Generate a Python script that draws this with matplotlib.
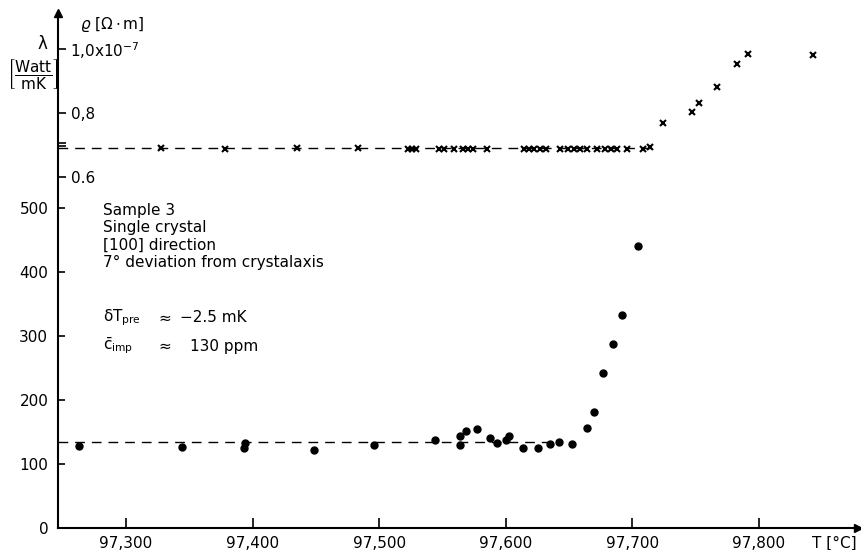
import matplotlib.pyplot as plt
import numpy as np

# lower curve: lambda (Watt/mK) vs T
t_lam = [97.263, 97.344, 97.3934, 97.394, 97.4485, 97.4956, 97.5438,
         97.564, 97.564, 97.5686, 97.577, 97.5875, 97.5933, 97.5999, 97.6028,
         97.6138, 97.6257, 97.6347, 97.6418, 97.6523, 97.6644, 97.670,
         97.677, 97.685, 97.6918, 97.7047]
lam = [128.6, 126.5, 125.5, 132.3, 121.4, 129.2, 137.5,
       144.3, 129.7, 151.0, 154.2, 140.6, 132.8, 138.0, 144.3,
       124.5, 125.5, 131.8, 134.9, 130.8, 155.7, 181.8,
       241.7, 287.5, 332.3, 440.6]

# upper curve: rho (Ohm m, x1e-7) vs T
t_rho = [97.328, 97.378, 97.435, 97.483, 97.523, 97.526, 97.529, 97.547,
         97.551, 97.559, 97.566, 97.570, 97.574, 97.585, 97.614, 97.618,
         97.622, 97.627, 97.632, 97.643, 97.649, 97.654, 97.659, 97.664,
         97.672, 97.678, 97.683, 97.688, 97.696, 97.708, 97.714,
         97.7244, 97.7468, 97.7526, 97.7666, 97.7829, 97.7915, 97.8424]
rho = [0.690, 0.689, 0.691, 0.690, 0.686, 0.686, 0.687, 0.687,
       0.686, 0.688, 0.686, 0.686, 0.687, 0.687, 0.686, 0.686,
       0.686, 0.687, 0.686, 0.687, 0.686, 0.687, 0.686, 0.687,
       0.687, 0.686, 0.686, 0.687, 0.687, 0.687, 0.695,
       0.768, 0.802, 0.830, 0.880, 0.953, 0.983, 0.980]

lam_level = 135      # dashed plateau of lambda
rho_level = 0.690    # dashed plateau of rho
lam_end = 97.640
rho_end = 97.714

x_ticks = [97.3, 97.4, 97.5, 97.6, 97.7, 97.8]
x_labels = ['97,300', '97,400', '97,500', '97,600', '97,700', '97,800']
lam_ticks = [0, 100, 200, 300, 400, 500]
rho_ticks = [0.6, 0.8, 1.0]
rho_labels = ['0.6', '0,8', '1,0x10$^{-7}$']

fs = 11
plt.rcParams['font.family'] = 'DejaVu Sans'

fig = plt.figure(figsize=(8.62, 5.5), dpi=100)
ax = fig.add_axes([58/862, 22/550, 800/862, 515/550])

xmin, xmax = 97.2463, 97.2463 + 800/1266
ax.set_xlim(xmin, xmax)
ax.set_ylim(0, 515/0.64)

for s in ['top', 'right']:
    ax.spines[s].set_visible(False)
for s in ['left', 'bottom']:
    ax.spines[s].set_linewidth(1.5)

ax.set_xticks(x_ticks)
ax.set_xticklabels(x_labels, fontsize=fs)
ax.tick_params(axis='x', direction='in', length=7, width=1.2, pad=6)
ax.set_yticks(lam_ticks)
ax.set_yticklabels([str(v) for v in lam_ticks], fontsize=fs)
ax.tick_params(axis='y', direction='in', length=5, width=1.2, pad=7)

# lambda data
ax.plot([xmin, lam_end], [lam_level, lam_level], color='k', lw=1,
        dashes=(7, 5))
ax.plot(t_lam, lam, 'o', color='k', ms=5)

# rho on a second scale sharing the left spine
ax2 = ax.twinx()
ax2.set_ylim(0.6 - 351/320, 0.6 + 164/320)
for s in ax2.spines.values():
    s.set_visible(False)
ax2.yaxis.tick_left()
ax2.set_yticks(rho_ticks)
ax2.set_yticklabels(rho_labels, fontsize=fs)
ax2.set_yticks([0.697, 0.706], minor=True)
ax2.tick_params(axis='y', which='both', direction='in', length=6,
                width=1.2, pad=-9)
for lab in ax2.get_yticklabels():
    lab.set_ha('left')
ax2.plot([xmin, rho_end], [rho_level, rho_level], color='k', lw=1,
         dashes=(7, 5))
ax2.plot(t_rho, rho, 'x', color='k', ms=4, mew=1.5)

# axis arrows
ax.plot(1, 0, '>', color='k', ms=6, transform=ax.transAxes, clip_on=False)
ax.plot(0, 1, '^', color='k', ms=6, transform=ax.transAxes, clip_on=False)

# axis labels
fig.text(834/862, 1 - 543/550, 'T [°C]', fontsize=fs, ha='center',
         va='center')
fig.text(80/862, 1 - 24/550, r'$\varrho$ [$\Omega\cdot$m]', fontsize=fs,
         ha='left', va='center')
fig.text(42/862, 1 - 44/550, 'λ', fontsize=fs + 1, ha='center',
         va='center')
fig.text(33/862, 1 - 74/550,
         r'$\left[\dfrac{\mathrm{Watt}}{\mathrm{mK}}\right]$',
         fontsize=fs, ha='center', va='center')

# annotations
fig.text(103/862, 1 - 203/550,
         'Sample 3\nSingle crystal\n[100] direction\n'
         '7° deviation from crystalaxis',
         fontsize=fs, ha='left', va='top', linespacing=1.2)
y1 = 1 - 318/550
fig.text(103/862, y1, r'δ$\mathrm{T}_{\mathrm{pre}}$', fontsize=fs,
         ha='left', va='center')
fig.text(158/862, y1, '≈', fontsize=fs, ha='left', va='center')
fig.text(180/862, y1, '−2.5 mK', fontsize=fs, ha='left', va='center')
y2 = 1 - 346/550
fig.text(103/862, y2, r'$\bar{\mathrm{c}}_{\mathrm{imp}}$', fontsize=fs,
         ha='left', va='center')
fig.text(158/862, y2, '≈', fontsize=fs, ha='left', va='center')
fig.text(190/862, y2, '130 ppm', fontsize=fs, ha='left', va='center')

fig.savefig('out.png', dpi=100)
